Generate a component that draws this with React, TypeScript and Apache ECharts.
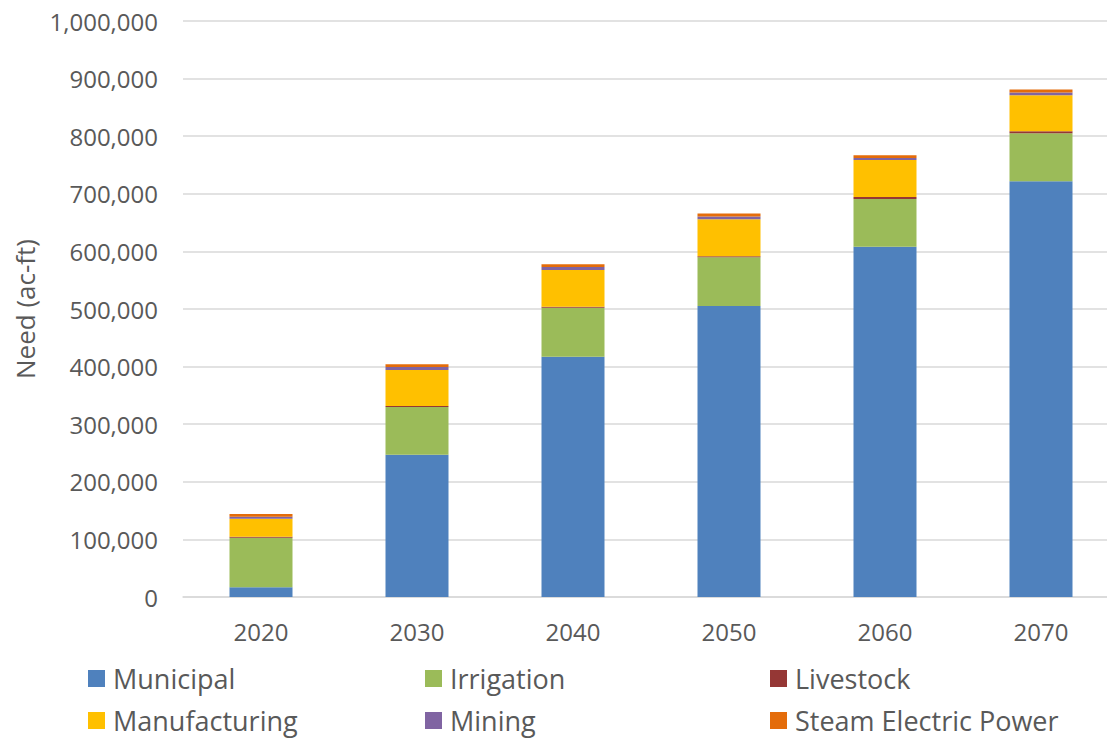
import React, { useEffect, useRef } from "react";
import * as echarts from "echarts";

const years = ["2020", "2030", "2040", "2050", "2060", "2070"];
const municipal = [17000, 247000, 417000, 505000, 608000, 722000];
const irrigation = [86000, 83000, 85000, 85000, 83000, 83000];
const livestock = [1700, 1700, 1700, 1700, 3500, 3500];
const manufacturing = [31000, 62500, 64000, 64000, 64000, 62500];
const mining = [3500, 5000, 5000, 5000, 3500, 5000];
const steamElectric = [5000, 5000, 5000, 5000, 5000, 5000];

const seriesNames = ["Municipal", "Irrigation", "Livestock", "Manufacturing", "Mining", "Steam Electric Power"];
const seriesData = [municipal, irrigation, livestock, manufacturing, mining, steamElectric];
const colors = ["#4f81bd", "#9bbb59", "#953735", "#ffc000", "#8064a2", "#e46c0a"];

const legendPos = [
  { left: 83, top: 660 },
  { left: 420, top: 660 },
  { left: 765, top: 660 },
  { left: 83, top: 702 },
  { left: 420, top: 702 },
  { left: 765, top: 702 },
];

const FONT = "'Open Sans', Lato, sans-serif";

export default function App() {
  const ref = useRef<HTMLDivElement>(null);
  useEffect(() => {
    if (!ref.current) return;
    const chart = echarts.init(ref.current, undefined, { renderer: "svg" });
    chart.setOption({
      animation: false,
      color: colors,
      textStyle: { fontFamily: FONT },
      grid: { left: 183, top: 21, right: 0, bottom: 141, containLabel: false },
      legend: seriesNames.map((n, i) => ({
        data: [n],
        left: legendPos[i].left,
        top: legendPos[i].top,
        itemWidth: 17,
        itemHeight: 17,
        itemGap: 0,
        selectedMode: false,
        icon: "rect",
        textStyle: { fontSize: 27, color: "#595959", fontFamily: FONT, padding: [0, 0, 0, 3] },
      })),
      xAxis: {
        type: "category",
        data: years,
        axisLine: { show: true, lineStyle: { color: "#d9d9d9", width: 1.5 } },
        axisTick: { show: false },
        axisLabel: { fontSize: 24, color: "#595959", margin: 22 },
      },
      yAxis: {
        type: "value",
        min: 0,
        max: 1000000,
        interval: 100000,
        name: "Need (ac-ft)",
        nameLocation: "middle",
        nameGap: 145,
        nameTextStyle: { fontSize: 26, color: "#595959" },
        axisLine: { show: false },
        axisTick: { show: false },
        axisLabel: {
          fontSize: 24,
          color: "#595959",
          margin: 25,
          formatter: (v: number) => v.toLocaleString("en-US"),
        },
        splitLine: { lineStyle: { color: "#d9d9d9", width: 1.5 } },
      },
      series: seriesNames.map((n, i) => ({
        name: n,
        type: "bar",
        stack: "total",
        barWidth: 63,
        data: seriesData[i],
        itemStyle: { color: colors[i] },
      })),
    });
    return () => chart.dispose();
  }, []);
  return (
    <div
      style={{
        position: "fixed",
        left: 0,
        top: 0,
        width: 1107,
        height: 738,
        overflow: "hidden",
        background: "#fff",
      }}
    >
      <div ref={ref} style={{ width: 1119, height: 738 }} />
    </div>
  );
}
